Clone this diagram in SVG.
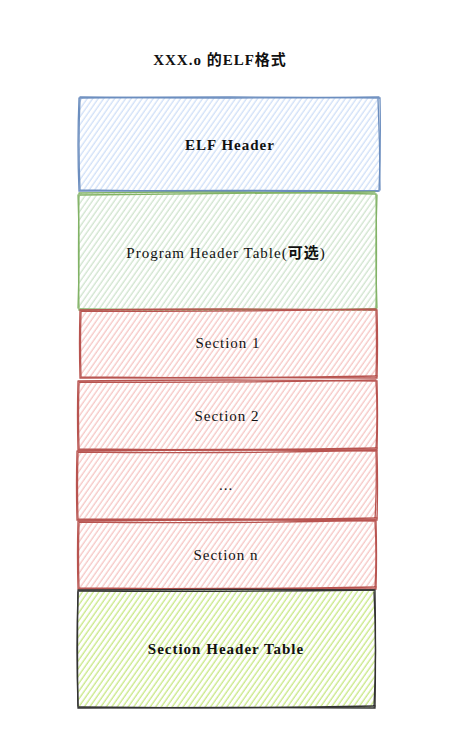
<svg xmlns="http://www.w3.org/2000/svg" width="450" height="752" viewBox="0 0 450 752">
<style>
text{font-family:"Liberation Serif","Noto Sans CJK SC",serif;font-size:15px;letter-spacing:1px;text-anchor:middle;fill:#111}
.b{font-weight:bold}
.s{fill:none;stroke-width:1.3;stroke-linecap:round}
</style>
<defs>
<pattern id="hb" width="4.5" height="5" patternUnits="userSpaceOnUse" patternTransform="rotate(35)"><line x1="2" y1="0" x2="2" y2="5" stroke="#d0e0f8" stroke-width="1.3"/></pattern>
<pattern id="hg" width="4.5" height="5" patternUnits="userSpaceOnUse" patternTransform="rotate(35)"><line x1="2" y1="0" x2="2" y2="5" stroke="#cfe4cd" stroke-width="1.3"/></pattern>
<pattern id="hr" width="4.5" height="5" patternUnits="userSpaceOnUse" patternTransform="rotate(35)"><line x1="2" y1="0" x2="2" y2="5" stroke="#f6c6c4" stroke-width="1.3"/></pattern>
<pattern id="hl" width="4.5" height="5" patternUnits="userSpaceOnUse" patternTransform="rotate(35)"><line x1="2" y1="0" x2="2" y2="5" stroke="#c8e884" stroke-width="1.3"/></pattern>
</defs>
<rect width="450" height="752" fill="#fff"/>
<text x="220" y="65" class="b">XXX.o 的ELF格式</text>

<g id="elf-header">
<rect x="79" y="98" width="300" height="93" fill="url(#hb)"/>
<path class="s" stroke="#6c8ebf" d="M79 98 Q230 96 380 98 Q381 145 379 191 Q230 190 79 191 Q77 145 79 98"/>
<path class="s" stroke="#6c8ebf" d="M80 97 Q230 99 379 97 M378 99 Q380 145 380 190 M80 190 Q230 193 378 191 M80 99 Q78 145 80 190"/>
<text x="230" y="150" class="b">ELF Header</text>
</g>

<g id="program-header-table">
<rect x="79" y="193" width="297" height="117" fill="url(#hg)"/>
<path class="s" stroke="#82b366" d="M79 193 Q230 191 376 194 Q377 250 376 310 Q230 309 79 310 Q78 250 79 193"/>
<path class="s" stroke="#82b366" d="M80 195 Q230 193 375 192 M377 195 Q375 250 377 308 M80 309 Q230 311 376 309 M78 195 Q80 250 78 308"/>
<text x="226" y="258">Program Header Table(<tspan class="b">可选</tspan>)</text>
</g>

<g id="section-1">
<rect x="80" y="310" width="297" height="68" fill="url(#hr)"/>
<path class="s" stroke="#b85450" d="M80 310 Q230 308 377 310 Q378 344 377 378 Q230 377 80 378 Q79 344 80 310"/>
<path class="s" stroke="#b85450" d="M81 311 Q230 312 376 309 M376 311 Q377 344 376 377 M81 377 Q230 379 377 376 M81 312 Q80 344 81 377"/>
<text x="228" y="348">Section 1</text>
</g>

<g id="section-2">
<rect x="78" y="381" width="299" height="69" fill="url(#hr)"/>
<path class="s" stroke="#b85450" d="M78 381 Q230 379 377 381 Q378 415 377 450 Q230 449 78 450 Q77 415 78 381"/>
<path class="s" stroke="#b85450" d="M79 382 Q230 383 376 380 M376 382 Q378 415 376 449 M79 449 Q230 451 377 448 M79 383 Q78 415 79 449"/>
<text x="227" y="421">Section 2</text>
</g>

<g id="section-dots">
<rect x="77" y="451" width="300" height="69" fill="url(#hr)"/>
<path class="s" stroke="#b85450" d="M77 451 Q230 449 377 451 Q378 485 377 520 Q230 518 77 520 Q76 485 77 451"/>
<path class="s" stroke="#b85450" d="M78 452 Q230 454 376 450 M376 452 Q377 485 375 519 M78 519 Q230 521 377 518 M78 453 Q77 485 78 519"/>
<text x="226" y="490">...</text>
</g>

<g id="section-n">
<rect x="78" y="521" width="298" height="68" fill="url(#hr)"/>
<path class="s" stroke="#b85450" d="M78 521 Q230 519 376 521 Q377 555 376 589 Q230 588 78 589 Q77 555 78 521"/>
<path class="s" stroke="#b85450" d="M79 522 Q230 524 375 520 M375 522 Q377 555 375 588 M79 588 Q230 590 376 587 M79 523 Q78 555 79 588"/>
<text x="226" y="560">Section n</text>
</g>

<g id="section-header-table">
<rect x="78" y="590" width="297" height="118" fill="url(#hl)"/>
<path class="s" stroke="#333333" d="M78 590 Q230 589 375 590 Q376 650 375 708 Q230 707 78 708 Q77 650 78 590"/>
<path class="s" stroke="#333333" d="M79 591 Q230 592 374 590 M374 592 Q377 650 374 707 M79 707 Q230 709 375 706 M78 592 Q76 650 78 706"/>
<text x="226" y="654" class="b">Section Header Table</text>
</g>
</svg>
